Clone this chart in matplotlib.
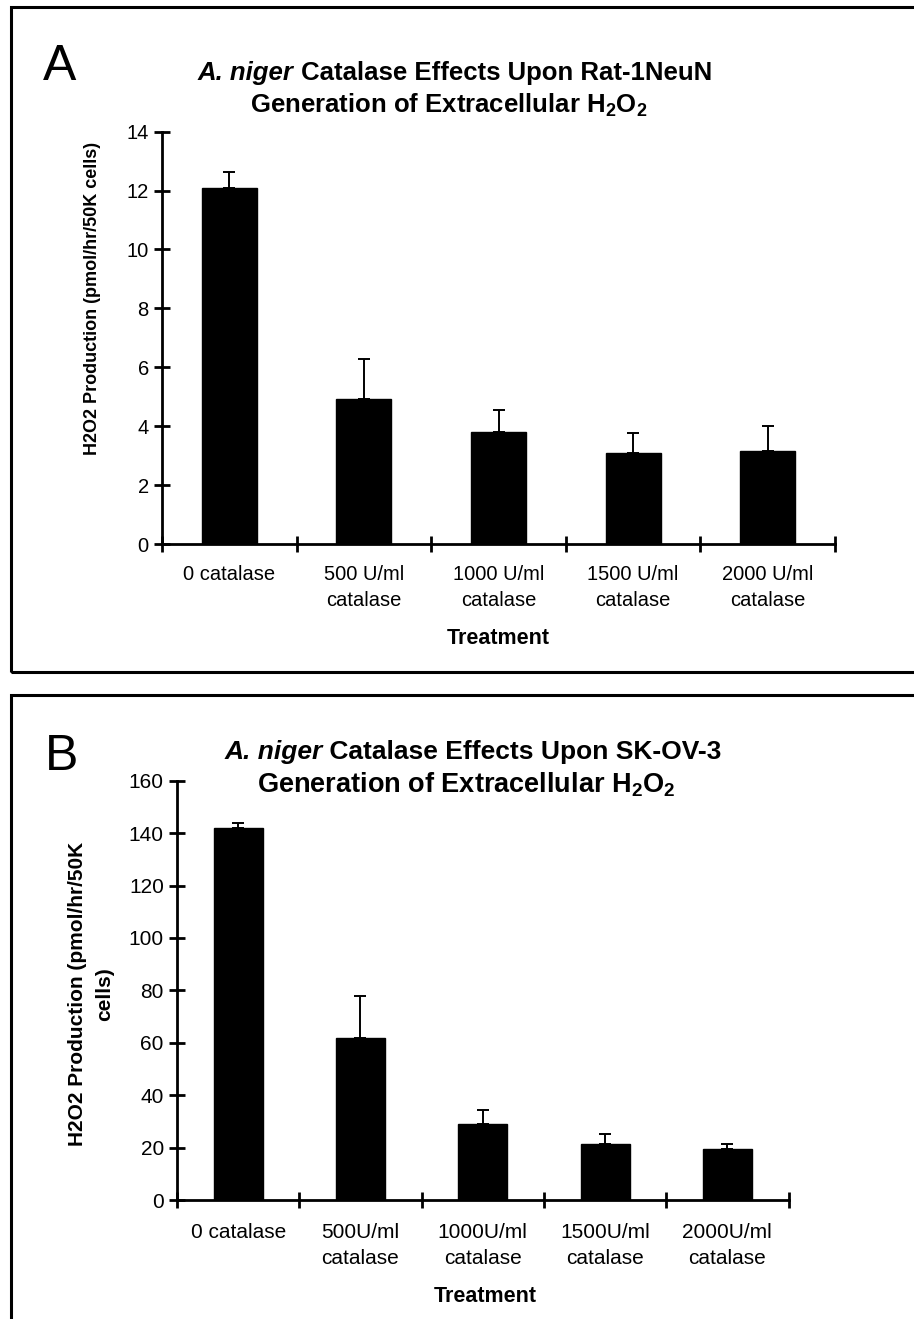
import matplotlib
matplotlib.use("Agg")
import matplotlib.pyplot as plt
from matplotlib.patches import Rectangle
import numpy as np

plt.rcParams['font.family'] = ['Liberation Sans', 'DejaVu Sans']
plt.rcParams['mathtext.fontset'] = 'custom'
plt.rcParams['mathtext.rm'] = 'Liberation Sans:bold'
plt.rcParams['mathtext.bf'] = 'Liberation Sans:bold'
plt.rcParams['mathtext.it'] = 'Liberation Sans:italic:bold'

# panel A: Rat-1NeuN
labels_a = ["0 catalase", "500 U/ml\ncatalase", "1000 U/ml\ncatalase",
            "1500 U/ml\ncatalase", "2000 U/ml\ncatalase"]
mean_a = [12.08, 4.92, 3.81, 3.09, 3.17]
err_a = [0.54, 1.37, 0.74, 0.67, 0.85]

# panel B: SK-OV-3
labels_b = ["0 catalase", "500U/ml\ncatalase", "1000U/ml\ncatalase",
            "1500U/ml\ncatalase", "2000U/ml\ncatalase"]
mean_b = [141.8, 61.9, 29.0, 21.2, 19.3]
err_b = [2.2, 15.9, 5.3, 4.0, 2.1]

W, H = 914, 1319
fig = plt.figure(figsize=(W / 100, H / 100), dpi=100)
renderer = fig.canvas.get_renderer()


def fx(px):
    return px / W


def fy(py):
    return 1 - py / H


def bar_panel(rect, means, errs, labels, ymax, ystep, width, fs, lab_pad, lsp):
    ax = fig.add_axes(rect)
    x = np.arange(len(means))
    ax.bar(x, means, width=width, color='black', edgecolor='black')
    ax.errorbar(x, means, yerr=[np.zeros(len(errs)), errs], fmt='none',
                ecolor='black', elinewidth=1.4, capsize=4.5, capthick=1.4)
    ax.set_xlim(-0.5, len(means) - 0.5)
    ax.set_ylim(0, ymax)
    ax.set_yticks(np.arange(0, ymax + ystep / 2, ystep))
    ax.set_xticks(np.arange(len(means) + 1) - 0.5)
    ax.set_xticklabels([])
    ax.set_xticks(x, minor=True)
    ax.set_xticklabels(labels, minor=True, fontsize=fs, linespacing=lsp)
    ax.tick_params(axis='x', which='minor', length=0, pad=lab_pad)
    ax.tick_params(axis='both', which='major', direction='inout', length=11,
                   width=2, labelsize=fs, pad=4)
    ax.tick_params(axis='y', which='minor', left=False)
    for s in ['top', 'right']:
        ax.spines[s].set_visible(False)
    for s in ['left', 'bottom']:
        ax.spines[s].set_linewidth(2)
    ax.spines['left'].set_zorder(3)
    return ax


def title_line(cx, cy, species, rest, fs):
    # italic species name followed by bold text, centred as one line
    t1 = fig.text(0, fy(cy), species, fontsize=fs, fontweight='bold',
                  fontstyle='italic', va='center', ha='left')
    t2 = fig.text(0, fy(cy), rest, fontsize=fs, fontweight='bold',
                  va='center', ha='left')
    w1 = t1.get_window_extent(renderer).width
    w2 = t2.get_window_extent(renderer).width
    x0 = cx - (w1 + w2) / 2
    t1.set_x(fx(x0))
    t2.set_x(fx(x0 + w1))


ax_a = bar_panel([fx(162), fy(544), fx(835) - fx(162), fy(131.7) - fy(544)],
                 mean_a, err_a, labels_a, 14, 2, 0.41, 14.5, 15, 1.45)
ax_b = bar_panel([fx(177), fy(1200), fx(788.5) - fx(177), fy(780.7) - fy(1200)],
                 mean_b, err_b, labels_b, 160, 20, 0.40, 15, 16.5, 1.45)

# panel frames
fig.add_artist(Rectangle((fx(11), fy(672)), 1.1, fy(7) - fy(672),
                         transform=fig.transFigure, fill=False, lw=2.2,
                         edgecolor='black'))
fig.add_artist(Rectangle((fx(11), fy(1340)), 1.1, fy(695) - fy(1340),
                         transform=fig.transFigure, fill=False, lw=2.2,
                         edgecolor='black'))

# panel letters
fig.text(fx(43), fy(80), "A", fontsize=36, va='baseline', ha='left')
fig.text(fx(45), fy(770), "B", fontsize=36, va='baseline', ha='left')

# titles
title_line(455, 73, "A. niger", " Catalase Effects Upon Rat-1NeuN", 18.5)
fig.text(fx(449), fy(105), r"Generation of Extracellular H$_2$O$_2$",
         fontsize=18.5, fontweight='bold', ha='center', va='center')
title_line(473, 752, "A. niger", " Catalase Effects Upon SK-OV-3", 19)
fig.text(fx(466), fy(785), r"Generation of Extracellular H$_2$O$_2$",
         fontsize=19.5, fontweight='bold', ha='center', va='center')

# axis labels
fig.text(fx(93), fy(298), "H2O2 Production (pmol/hr/50K cells)", rotation=90,
         fontsize=13, fontweight='bold', ha='center', va='center')
fig.text(fx(91), fy(994), "H2O2 Production (pmol/hr/50K\ncells)", rotation=90,
         fontsize=15, fontweight='bold', ha='center', va='center',
         multialignment='center', linespacing=1.5)
fig.text(fx(498), fy(638), "Treatment", fontsize=15.5, fontweight='bold',
         ha='center', va='center')
fig.text(fx(485), fy(1297), "Treatment", fontsize=15.5, fontweight='bold',
         ha='center', va='center')

fig.savefig("out.png", dpi=100)
